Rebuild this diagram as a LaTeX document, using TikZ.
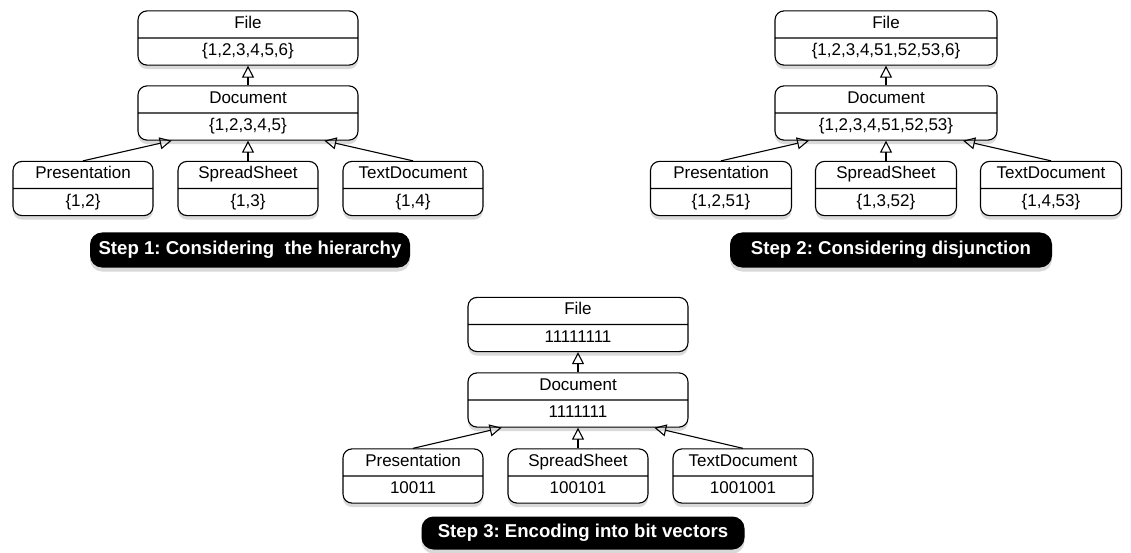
\documentclass[tikz,border=0pt]{standalone}
\usepackage{fontspec}
\setmainfont{Liberation Sans}
\frenchspacing
\usetikzlibrary{arrows.meta,positioning,calc,shapes.multipart,shadows}
\tikzset{
  cls/.style={rectangle split, rectangle split parts=2, draw=black, fill=white, line width=1.1pt,
    rounded corners=9pt, inner xsep=4pt, inner ysep=3pt, minimum width=#1,
    font=\fontsize{17}{20}\selectfont,
    drop shadow={shadow xshift=0pt, shadow yshift=-4pt, opacity=0.3}},
  cls/.default=140pt,
  isa/.style={-{Triangle[open,length=12pt,width=12pt]}, line width=1.1pt},
  steplab/.style={fill=black, rounded corners=12pt, text=white, minimum width=#1, minimum height=35pt,
    font=\fontsize{18.6}{22}\selectfont\bfseries,
    drop shadow={shadow xshift=0pt, shadow yshift=-4pt, opacity=0.3}},
}

\begin{document}
\begin{tikzpicture}[x=1pt,y=-1pt]
  \useasboundingbox (0,0) rectangle (1131,553);

  % step 1
  \node[cls=220pt] (f1) at (248,38) {File\strut \nodepart{two} \{1,2,3,4,5,6\}\strut};
  \node[cls=220pt] (d1) at (248,113) {Document\strut \nodepart{two} \{1,2,3,4,5\}\strut};
  \node[cls] (p1) at (83,188.5) {Presentation\strut \nodepart{two} \{1,2\}\strut};
  \node[cls] (s1) at (248,188.5) {SpreadSheet\strut \nodepart{two} \{1,3\}\strut};
  \node[cls] (t1) at (413,188.5) {TextDocument\strut \nodepart{two} \{1,4\}\strut};
  \draw[isa] (d1.north) -- (f1.south);
  \draw[isa] (p1.north) -- ($(d1.south west)!0.155!(d1.south east)$);
  \draw[isa] (s1.north) -- (d1.south);
  \draw[isa] (t1.north) -- ($(d1.south west)!0.845!(d1.south east)$);
  \node[steplab=320pt] (l1) at (250,250) {Step 1: Considering~ the hierarchy};

  % step 2
  \node[cls=222pt] (f2) at (886,38) {File\strut \nodepart{two} \{1,2,3,4,51,52,53,6\}\strut};
  \node[cls=222pt] (d2) at (886,113) {Document\strut \nodepart{two} \{1,2,3,4,51,52,53\}\strut};
  \node[cls=141pt] (p2) at (721,188.5) {Presentation\strut \nodepart{two} \{1,2,51\}\strut};
  \node[cls=141pt] (s2) at (886,188.5) {SpreadSheet\strut \nodepart{two} \{1,3,52\}\strut};
  \node[cls=141pt] (t2) at (1051,188.5) {TextDocument\strut \nodepart{two} \{1,4,53\}\strut};
  \draw[isa] (d2.north) -- (f2.south);
  \draw[isa] (p2.north) -- ($(d2.south west)!0.155!(d2.south east)$);
  \draw[isa] (s2.north) -- (d2.south);
  \draw[isa] (t2.north) -- ($(d2.south west)!0.845!(d2.south east)$);
  \node[steplab=322pt] (l2) at (891,250) {Step 2: Considering disjunction};

  % step 3
  \node[cls=220pt] (f3) at (578,324.5) {File\strut \nodepart{two} 11111111\strut};
  \node[cls=220pt] (d3) at (578,400) {Document\strut \nodepart{two} 1111111\strut};
  \node[cls] (p3) at (413,476) {Presentation\strut \nodepart{two} 10011\strut};
  \node[cls] (s3) at (578,476) {SpreadSheet\strut \nodepart{two} 100101\strut};
  \node[cls] (t3) at (743,476) {TextDocument\strut \nodepart{two} 1001001\strut};
  \draw[isa] (d3.north) -- (f3.south);
  \draw[isa] (p3.north) -- ($(d3.south west)!0.155!(d3.south east)$);
  \draw[isa] (s3.north) -- (d3.south);
  \draw[isa] (t3.north) -- ($(d3.south west)!0.845!(d3.south east)$);
  \node[steplab=323pt, minimum height=33pt] (l3) at (583,533) {Step 3: Encoding into bit vectors};
\end{tikzpicture}
\end{document}
